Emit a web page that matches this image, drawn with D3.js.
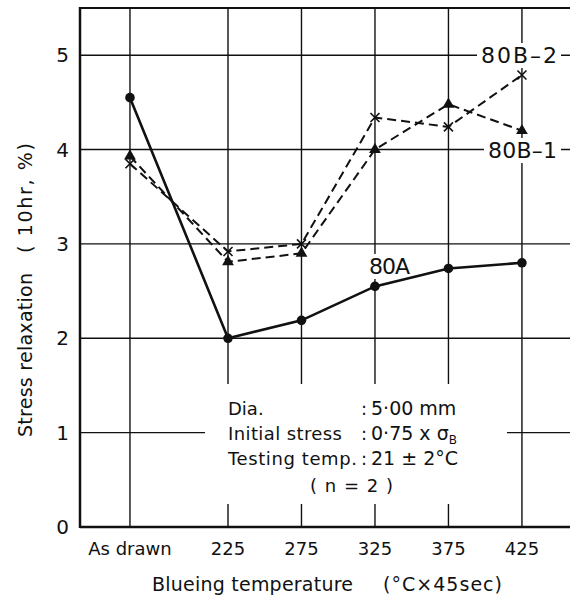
<!DOCTYPE html>
<html>
<head>
<meta charset="utf-8">
<script src="https://cdn.jsdelivr.net/npm/d3@7"></script>
<style>
  html, body { margin: 0; padding: 0; background: #fff; }
  svg { display: block; }
  text { font-family: "DejaVu Sans", sans-serif; fill: #111; }
</style>
</head>
<body>
<svg id="chart" width="570" height="597"></svg>
<script>
// ---- data ----
const categories = ["As drawn", "225", "275", "325", "375", "425"];
// nominal x position of each category on the temperature axis ("As drawn" placed left of 225)
const catTemps = [158.3, 225, 275, 325, 375, 425];
const series80A  = [4.55, 2.00, 2.19, 2.55, 2.74, 2.80];
const series80B1 = [3.93, 2.81, 2.90, 4.00, 4.48, 4.20];
const series80B2 = [3.85, 2.92, 3.00, 4.34, 4.24, 4.79];
const yTicks = [0, 1, 2, 3, 4, 5];
const yLabelParts = ["Stress relaxation", "( 10hr, %)"];
const xLabelParts = ["Blueing temperature", "(°C×45sec)"];
const seriesNames = ["80A", "80B–1", "80B–2"];

// ---- layout ----
const W = 570, H = 597;
const m = { left: 80, top: 8, right: 0, bottom: 70 };
const svg = d3.select("#chart");

const x = d3.scaleLinear().domain([124.3, 457.7]).range([m.left, W - m.right]);
const y = d3.scaleLinear().domain([0, 5.5]).range([527, m.top]);

const g = svg.append("g");

// gridlines
g.append("g").selectAll("line").data(yTicks.filter(d => d > 0)).join("line")
  .attr("x1", m.left).attr("x2", W).attr("y1", d => y(d)).attr("y2", d => y(d))
  .attr("stroke", "#111").attr("stroke-width", 1.4);
g.append("g").selectAll("line").data(catTemps).join("line")
  .attr("x1", d => x(d)).attr("x2", d => x(d)).attr("y1", y(5.5)).attr("y2", y(0))
  .attr("stroke", "#111").attr("stroke-width", 1.4);

// frame (left, bottom, top)
g.append("line").attr("x1", m.left).attr("x2", W).attr("y1", y(0)).attr("y2", y(0))
  .attr("stroke", "#111").attr("stroke-width", 2.5);
g.append("line").attr("x1", m.left).attr("x2", W).attr("y1", y(5.5)).attr("y2", y(5.5))
  .attr("stroke", "#111").attr("stroke-width", 2.2);
g.append("line").attr("x1", m.left).attr("x2", m.left).attr("y1", y(5.5) - 1).attr("y2", y(0) + 1)
  .attr("stroke", "#111").attr("stroke-width", 2.5);

// white box behind the annotation block
g.append("rect").attr("x", 205).attr("y", 384).attr("width", 302).attr("height", 120).attr("fill", "#fff");

// label background boxes
const labelSpecs = [
  { text: seriesNames[2], x: 481, y: 63, w: 76 },
  { text: seriesNames[1], x: 488, y: 158, w: 69 },
  { text: seriesNames[0], x: 369, y: 274, w: 41 }
];
labelSpecs.forEach(s => {
  g.append("rect").attr("x", s.x - 4).attr("y", s.y - 20).attr("width", s.w + 8).attr("height", 25).attr("fill", "#fff");
});

// axis tick labels
svg.append("g").selectAll("text").data(yTicks).join("text")
  .attr("x", 69).attr("y", d => y(d) + 7).attr("text-anchor", "end")
  .attr("font-size", 20).text(d => d);
svg.append("g").selectAll("text").data(categories).join("text")
  .attr("x", (d, i) => x(catTemps[i])).attr("y", 555).attr("text-anchor", "middle")
  .attr("font-size", 18).text(d => d);

// axis titles
const yT = [{ c: 355, w: 164 }, { c: 198, w: 110 }];
yLabelParts.forEach((t, i) => {
  svg.append("text").attr("transform", `translate(32,${yT[i].c}) rotate(-90)`)
    .attr("text-anchor", "middle").attr("font-size", 19)
    .attr("textLength", yT[i].w).attr("lengthAdjust", "spacing").text(t);
});
const xT = [{ c: 252.5, w: 201 }, { c: 442.5, w: 119 }];
xLabelParts.forEach((t, i) => {
  svg.append("text").attr("x", xT[i].c).attr("y", 591)
    .attr("text-anchor", "middle").attr("font-size", 19)
    .attr("textLength", xT[i].w).attr("lengthAdjust", "spacing").text(t);
});

// series lines
const line = d3.line().x((d, i) => x(catTemps[i])).y(d => y(d));
g.append("path").datum(series80A).attr("d", line).attr("fill", "none")
  .attr("stroke", "#111").attr("stroke-width", 2.6);
g.append("path").datum(series80B1).attr("d", line).attr("fill", "none")
  .attr("stroke", "#111").attr("stroke-width", 2).attr("stroke-dasharray", "9,5");
g.append("path").datum(series80B2).attr("d", line).attr("fill", "none")
  .attr("stroke", "#111").attr("stroke-width", 2).attr("stroke-dasharray", "9,5");

// markers
g.append("g").selectAll("circle").data(series80A).join("circle")
  .attr("cx", (d, i) => x(catTemps[i])).attr("cy", d => y(d)).attr("r", 4.8).attr("fill", "#111");
g.append("g").selectAll("path").data(series80B1).join("path")
  .attr("transform", (d, i) => `translate(${x(catTemps[i])},${y(d)})`)
  .attr("d", d3.symbol(d3.symbolTriangle, 60)).attr("fill", "#111");
const cross = g.append("g").selectAll("g").data(series80B2).join("g")
  .attr("transform", (d, i) => `translate(${x(catTemps[i])},${y(d)})`);
cross.append("line").attr("x1", -4.5).attr("y1", -4.5).attr("x2", 4.5).attr("y2", 4.5).attr("stroke", "#111").attr("stroke-width", 1.6);
cross.append("line").attr("x1", -4.5).attr("y1", 4.5).attr("x2", 4.5).attr("y2", -4.5).attr("stroke", "#111").attr("stroke-width", 1.6);

// series labels
labelSpecs.forEach(s => {
  svg.append("text").attr("x", s.x).attr("y", s.y).attr("font-size", 22)
    .attr("textLength", s.w).attr("lengthAdjust", "spacing").text(s.text);
});

// annotation block
const ann = svg.append("g");
const annRows = [
  { k: "Dia.", v: "5·00 mm", y: 415 },
  { k: "Initial stress", kw: 114, v: "0·75 x σ", sub: "B", y: 440 },
  { k: "Testing temp.", kw: 129, v: "21 ± 2°C", y: 465 }
];
annRows.forEach(r => {
  const k = ann.append("text").attr("x", 228).attr("y", r.y).attr("font-size", 18).text(r.k);
  if (r.kw) k.attr("textLength", r.kw).attr("lengthAdjust", "spacing");
  ann.append("text").attr("x", 361).attr("y", r.y).attr("font-size", 18).text(":");
  const t = ann.append("text").attr("x", 371).attr("y", r.y).attr("font-size", 19);
  t.append("tspan").text(r.v);
  if (r.sub) t.append("tspan").attr("font-size", 12).attr("dy", 4).text(r.sub);
});
ann.append("text").attr("x", 310).attr("y", 492).attr("font-size", 18)
  .attr("textLength", 83).attr("lengthAdjust", "spacing").text("( n = 2 )");
</script>
</body>
</html>
